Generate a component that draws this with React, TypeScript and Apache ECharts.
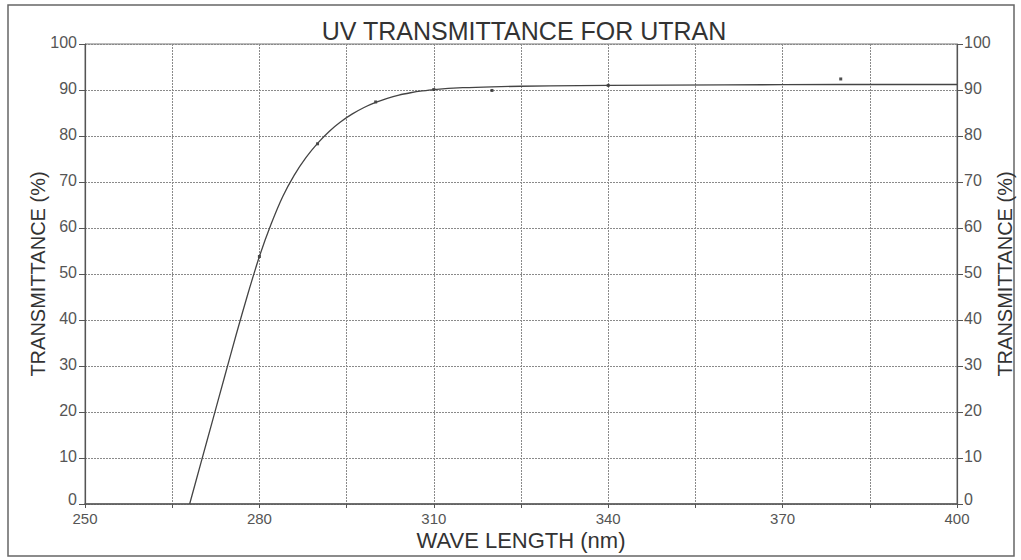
import React, { useEffect, useRef } from "react";
import * as echarts from "echarts";

const titleText = "UV TRANSMITTANCE FOR UTRAN";
const xName = "WAVE LENGTH (nm)";
const yName = "TRANSMITTANCE (%)";

// fitted curve (wavelength nm, transmittance %)
const curveX = [268, 270, 272, 274, 276, 278, 280, 282, 284, 286, 288, 290, 292, 294, 296, 298, 300, 302, 304, 306, 308, 310, 315, 320, 330, 340, 360, 380, 400];
const curveY = [0, 9.2, 18.4, 27.6, 36.8, 45.6, 53.8, 60.8, 66.8, 71.5, 75.3, 78.4, 81, 83.1, 84.8, 86.2, 87.3, 88.2, 88.9, 89.4, 89.8, 90.1, 90.5, 90.7, 90.9, 91.0, 91.1, 91.2, 91.2];

// measured points
const pointX = [280, 290, 300, 310, 320, 340, 380];
const pointY = [53.8, 78.3, 87.4, 90.1, 89.9, 91.0, 92.4];

const FONT = "'Liberation Sans', Arial, sans-serif";

export default function App() {
  const ref = useRef<HTMLDivElement>(null);
  useEffect(() => {
    document.body.style.margin = "0";
    const chart = echarts.init(ref.current!, null, { renderer: "svg" });
    const gridLine = { show: true, lineStyle: { color: "#8a8a8a", type: [2, 1] as any, width: 1 } };
    const yAxisCommon = {
      type: "value" as const,
      min: 0,
      max: 100,
      interval: 10,
      nameLocation: "middle" as const,
      nameMoveOverlap: false,
      name: yName,
      nameTextStyle: { fontFamily: FONT, fontSize: 20, color: "#333" },
      axisLine: { show: true, lineStyle: { color: "#555", width: 1.2 } },
      axisTick: { show: true, length: 6, lineStyle: { color: "#555" } },
    };
    const yLabel = {
      fontFamily: FONT,
      fontSize: 16,
      color: "#555",
      padding: [0, 0, 3, 0],
      formatter: (v: number) => (v === 0 ? "{z|0}" : String(v)),
      rich: { z: { fontFamily: FONT, fontSize: 16, color: "#555", padding: [0, 0, 7, 0] } },
    };
    chart.setOption({
      animation: false,
      backgroundColor: "#fff",
      title: {
        text: titleText,
        left: 519,
        top: 13,
        textAlign: "center",
        textStyle: { fontFamily: FONT, fontSize: 25, fontWeight: "normal", color: "#333" },
      },
      grid: {
        left: 85,
        right: 64,
        top: 44,
        bottom: 56,
        show: true,
        borderColor: "#777",
        borderWidth: 1,
        containLabel: false,
        outerBoundsMode: "none",
      },
      xAxis: {
        type: "value",
        min: 250,
        max: 400,
        interval: 15,
        name: xName,
        nameLocation: "middle",
        nameMoveOverlap: false,
        nameGap: 25,
        nameTextStyle: { fontFamily: FONT, fontSize: 22, color: "#333" },
        axisLine: { show: true, onZero: false, lineStyle: { color: "#555", width: 1.5 } },
        axisTick: { show: true, length: 4, lineStyle: { color: "#555" } },
        axisLabel: {
          fontFamily: FONT,
          fontSize: 15,
          color: "#555",
          margin: 7,
          formatter: (v: number) => ((Math.round(v) - 250) % 30 === 0 ? String(Math.round(v)) : ""),
        },
        splitLine: gridLine,
      },
      yAxis: [
        { ...yAxisCommon, position: "left", nameGap: 37, axisLabel: { ...yLabel, margin: 8 }, splitLine: gridLine },
        { ...yAxisCommon, position: "right", nameGap: 38, axisLabel: { ...yLabel, margin: 7 }, splitLine: { show: false } },
      ],
      graphic: [
        {
          type: "rect",
          shape: { x: 8, y: 5, width: 1006, height: 551 },
          style: { fill: "none", stroke: "#666", lineWidth: 1.5 },
          silent: true,
        },
      ],
      series: [
        {
          type: "line",
          data: curveX.map((x, i) => [x, curveY[i]]),
          smooth: 0.3,
          showSymbol: false,
          lineStyle: { color: "#444", width: 1.3 },
          silent: true,
        },
        {
          type: "scatter",
          data: pointX.map((x, i) => [x, pointY[i]]),
          symbol: "rect",
          symbolSize: 3,
          itemStyle: { color: "#222" },
          silent: true,
        },
      ],
    });
    return () => chart.dispose();
  }, []);
  return <div ref={ref} style={{ width: 1021, height: 560 }} />;
}
